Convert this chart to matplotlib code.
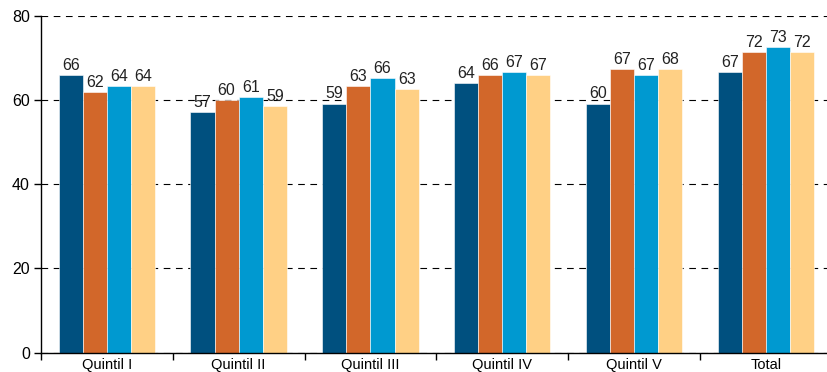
import numpy as np
import matplotlib
matplotlib.use("Agg")
import matplotlib.pyplot as plt

plt.rcParams["font.family"] = ["Liberation Sans", "DejaVu Sans"]

categories = ["Quintil I", "Quintil II", "Quintil III", "Quintil IV", "Quintil V", "Total"]
series_a = [66.0, 57.2, 59.2, 64.0, 59.2, 66.7]
series_b = [62.0, 60.0, 63.4, 66.0, 67.4, 71.4]
series_c = [63.4, 60.7, 65.3, 66.7, 66.0, 72.7]
series_d = [63.4, 58.6, 62.6, 66.0, 67.4, 71.4]
labels_a = ["66", "57", "59", "64", "60", "67"]
labels_b = ["62", "60", "63", "66", "67", "72"]
labels_c = ["64", "61", "66", "67", "67", "73"]
labels_d = ["64", "59", "63", "67", "68", "72"]

colors = ["#00507F", "#D2672A", "#0099D0", "#FFD085"]

fig = plt.figure(figsize=(8.28, 3.72), dpi=100)
ax = fig.add_axes([0.0495, 0.052, 0.955, 0.905])

x = np.arange(len(categories))
width = 0.183
all_series = [series_a, series_b, series_c, series_d]
all_labels = [labels_a, labels_b, labels_c, labels_d]
for i, (vals, labs) in enumerate(zip(all_series, all_labels)):
    offset = (i - 1.5) * width
    bars = ax.bar(x + offset, vals, width, color=colors[i],
                  edgecolor="white", linewidth=0.4, zorder=2)
    for b, lab in zip(bars, labs):
        ax.text(b.get_x() + b.get_width() / 2, b.get_height() + 0.5, lab,
                ha="center", va="bottom", fontsize=11.5, color="#222222")

ax.set_ylim(0, 80)
ax.set_xlim(-0.5, len(categories) - 0.5)
ax.set_yticks([0, 20, 40, 60, 80])
ax.yaxis.grid(True, linestyle=(0, (6, 5)), color="black", linewidth=0.8, zorder=0)
ax.set_axisbelow(True)

ax.set_xticks(x)
ax.set_xticklabels(categories, fontsize=10.5)
ax.tick_params(axis="x", which="major", length=0, pad=4)
ax.set_xticks(np.arange(-0.5, len(categories) - 0.4, 1), minor=True)
ax.tick_params(axis="x", which="minor", length=5, width=1, direction="out")
ax.tick_params(axis="y", labelsize=11.5, length=5, width=1, pad=3)

for s in ["top", "right"]:
    ax.spines[s].set_visible(False)
ax.spines["left"].set_linewidth(1)
ax.spines["bottom"].set_linewidth(1)

fig.savefig("out.png", dpi=100)
